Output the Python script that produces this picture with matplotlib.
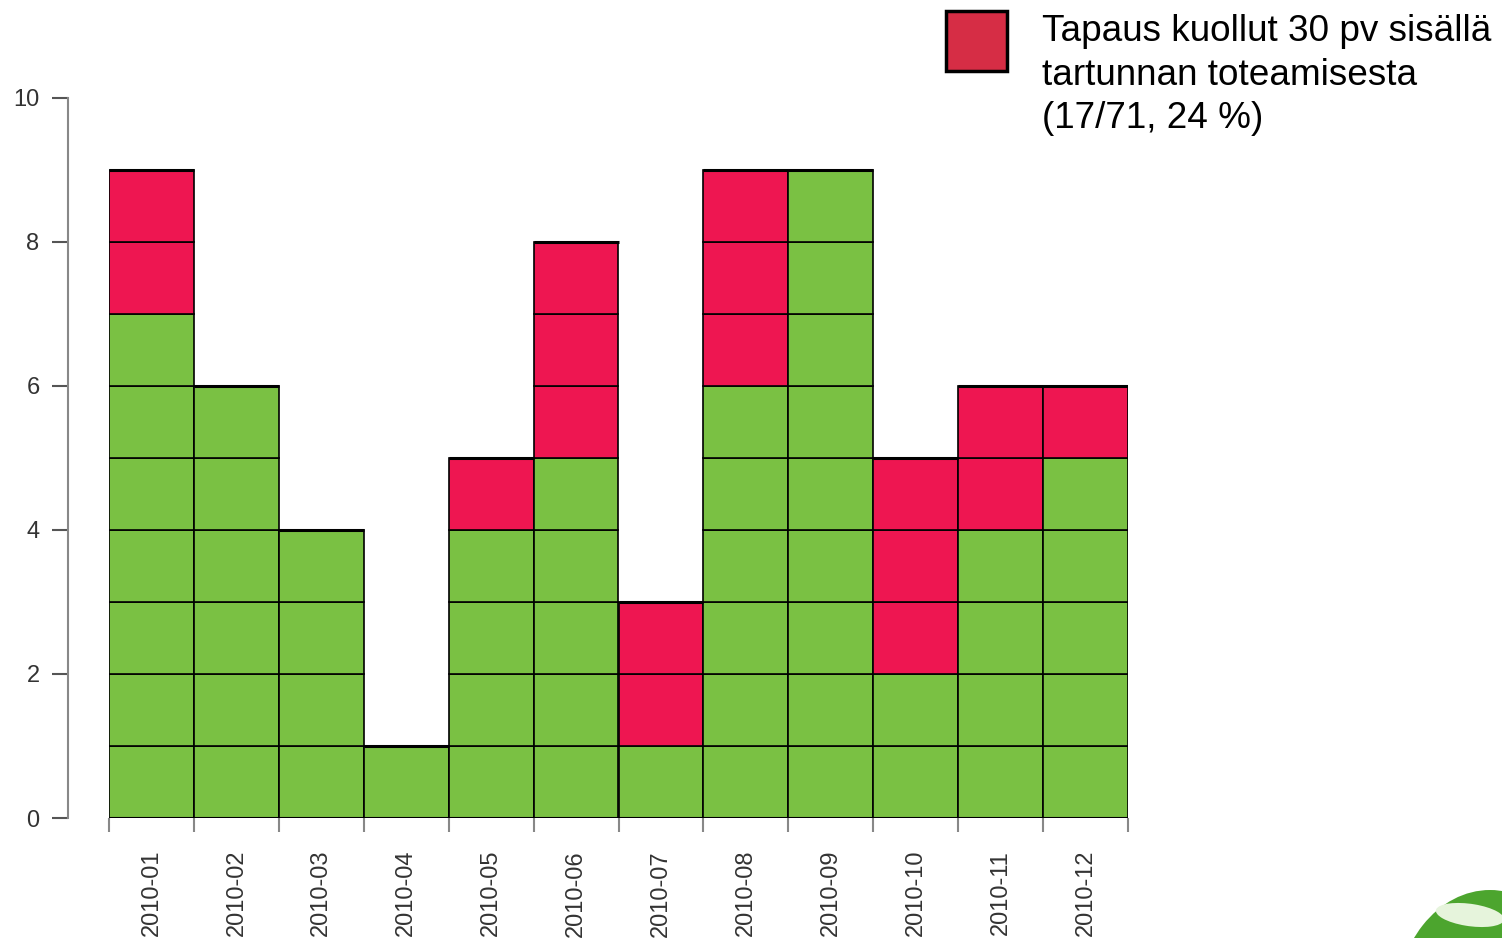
import matplotlib
matplotlib.use("Agg")
import matplotlib.pyplot as plt
from matplotlib.patches import Rectangle, Ellipse

months = ["2010-01", "2010-02", "2010-03", "2010-04", "2010-05", "2010-06",
          "2010-07", "2010-08", "2010-09", "2010-10", "2010-11", "2010-12"]
alive = [7, 6, 4, 1, 4, 5, 1, 6, 9, 2, 4, 5]
died = [2, 0, 0, 0, 1, 3, 2, 3, 0, 3, 2, 1]
yticks = [0, 2, 4, 6, 8, 10]
legend_text = "Tapaus kuollut 30 pv sisällä\ntartunnan toteamisesta\n(17/71, 24 %)"

GREEN = "#7AC143"
RED = "#EE1651"
LEG_RED = "#D62D45"

plt.rcParams['font.family'] = ['Liberation Sans', 'DejaVu Sans']

W, H = 1502, 938
fig = plt.figure(figsize=(W / 100, H / 100), dpi=100)
ax = fig.add_axes([109 / W, (H - 818) / H, (1128 - 109) / W, (818 - 98) / H])

for i in range(len(months)):
    for k in range(alive[i]):
        ax.bar(i, 1, bottom=k, width=1, align='edge', color=GREEN,
               edgecolor='black', linewidth=1.2)
    for k in range(died[i]):
        ax.bar(i, 1, bottom=alive[i] + k, width=1, align='edge', color=RED,
               edgecolor='black', linewidth=1.2)
    ax.plot([i, i + 1], [alive[i] + died[i]] * 2, color='black', lw=2.2,
            solid_capstyle='butt')
ax.plot([0, len(months)], [0, 0], color='black', lw=1.5)

ax.set_xlim(0, len(months))
ax.set_ylim(0, 10)
for s in ['top', 'right', 'bottom']:
    ax.spines[s].set_visible(False)
ax.spines['left'].set_position(('outward', 41 * 0.72))
ax.spines['left'].set_color('#888888')
ax.spines['left'].set_linewidth(1.5)

ax.set_yticks(yticks)
ax.set_yticklabels([str(v) for v in yticks])
ax.tick_params(axis='y', length=11.5, width=1.5, color='#555555', pad=9,
               labelsize=17, labelcolor='#333333')

ax.set_xticks(range(len(months) + 1))
ax.set_xticklabels([])
ax.set_xticks([i + 0.5 for i in range(len(months))], minor=True)
ax.set_xticklabels(months, minor=True, rotation=90)
ax.tick_params(axis='x', which='major', length=10, width=1.5, color='#888888')
ax.tick_params(axis='x', which='minor', length=0, pad=23, labelsize=17,
               labelcolor='#333333')

# legend
fig.patches.append(Rectangle((946 / W, (H - 71) / H), 61 / W, 60 / H,
                             transform=fig.transFigure, facecolor=LEG_RED,
                             edgecolor='black', linewidth=2.5))
fig.text(1042 / W, (H - 14) / H, legend_text, fontsize=26.6, va='top',
         ha='left', color='black', linespacing=1.32)

# logo fragment
fig.patches.append(Ellipse((1490 / W, (H - 1010) / H), 190 / W, 240 / H,
                           transform=fig.transFigure, facecolor='#4CA52E',
                           edgecolor='none'))
fig.patches.append(Ellipse((1470 / W, (H - 915) / H), 70 / W, 22 / H, angle=-15,
                           transform=fig.transFigure, facecolor='#E6F4DC',
                           edgecolor='none'))

fig.savefig("out.png", dpi=100)
